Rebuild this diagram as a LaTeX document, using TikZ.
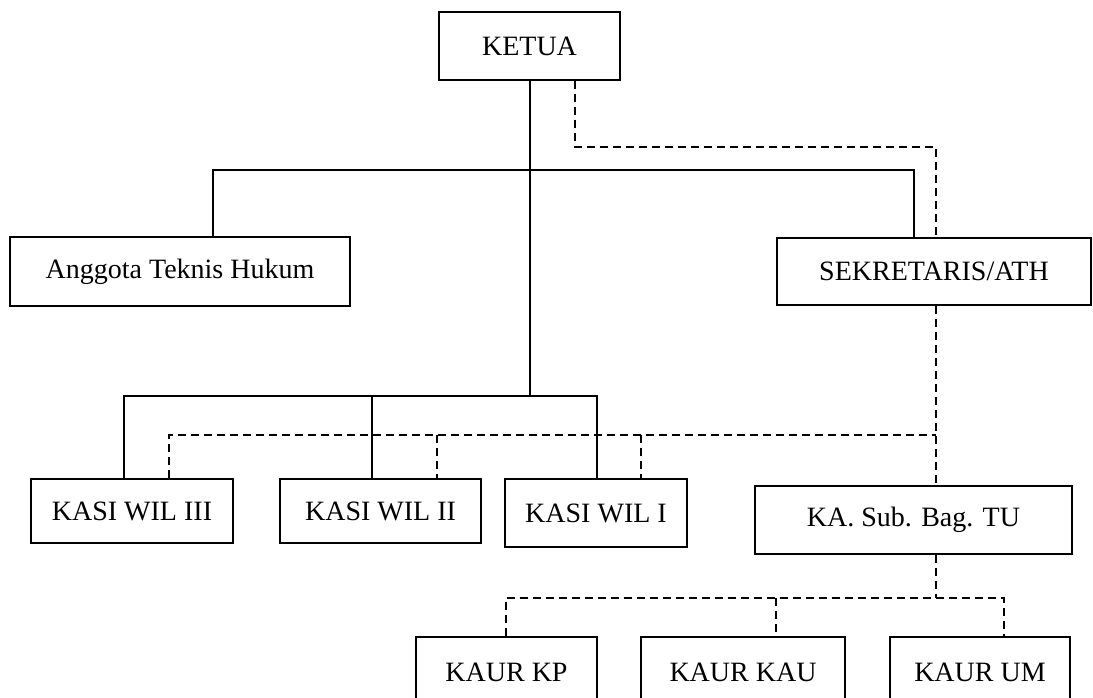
\documentclass[tikz,border=0pt]{standalone}
\usepackage{fontspec}
\setmainfont{Liberation Serif}

\begin{document}
\begin{tikzpicture}[x=1pt, y=-1pt, line cap=butt,
                    box/.style={draw, line width=1.6pt, inner sep=0pt,
                                font=\fontsize{28}{33}\selectfont},
                    link/.style={line width=1.6pt},
                    dlink/.style={line width=1.6pt, dash pattern=on 8pt off 5pt}
                   ]
\useasboundingbox (0,0) rectangle (1093,698);
\clip (0,0) rectangle (1093,698);

%boxes
\node [box, minimum width=181, minimum height=68] (ketua)   at (529.5,46)  {KETUA};
\node [box, minimum width=340, minimum height=69] (anggota) at (180,271.5) {Anggota Teknis Hukum};
\node [box, minimum width=314, minimum height=67] (sekre)   at (934,271.5) {SEKRETARIS/ATH};
\node [box, minimum width=202, minimum height=64] (wil3)    at (132,511)   {KASI WIL III};
\node [box, minimum width=201, minimum height=64] (wil2)    at (380.5,511) {KASI WIL II};
\node [box, minimum width=182, minimum height=68] (wil1)    at (596,513)   {KASI WIL I};
\node [box, minimum width=317, minimum height=68] (subtu)   at (913.5,520) {KA. Sub. Bag. TU};
\node [box, minimum width=181, minimum height=70] (kp)      at (506.5,672) {KAUR KP};
\node [box, minimum width=204, minimum height=70] (kau)     at (743,672)   {KAUR KAU};
\node [box, minimum width=180, minimum height=70] (um)      at (980,672)   {KAUR UM};

%bends of the lines
\coordinate (top)   at (530,170);
\coordinate (low)   at (530,396);
\coordinate (aL)    at (213,170);
\coordinate (aR)    at (914,170);
\coordinate (wL)    at (124,396);
\coordinate (wM)    at (372,396);
\coordinate (wR)    at (597,396);
\coordinate (kd)    at (575,147);
\coordinate (sd)    at (936,147);
\coordinate (hub)   at (936,435);
\coordinate (d3)    at (169,435);
\coordinate (d2)    at (437,435);
\coordinate (d1)    at (641,435);
\coordinate (tuhub) at (936,598);
\coordinate (u1)    at (506,598);
\coordinate (u2)    at (776,598);
\coordinate (u3)    at (1004,598);

%solid lines
\draw [link] (ketua.south -| top) -- (low);
\draw [link] (aL |- anggota.north) -- (aL) -- (aR) -- (aR |- sekre.north);
\draw [link] (wL |- wil3.north) -- (wL) -- (wR) -- (wR |- wil1.north);
\draw [link] (wM) -- (wM |- wil2.north);

%dashed lines
\draw [dlink] (kd |- ketua.south) -- (kd) -- (sd) -- (sd |- sekre.north);
\draw [dlink] (hub |- sekre.south) -- (hub |- subtu.north);
\draw [dlink] (d3 |- wil3.north) -- (d3) -- (hub);
\draw [dlink] (d2) -- (d2 |- wil2.north);
\draw [dlink] (d1) -- (d1 |- wil1.north);
\draw [dlink] (tuhub |- subtu.south) -- (tuhub);
\draw [dlink] (u1 |- kp.north) -- (u1) -- (u3) -- (u3 |- um.north);
\draw [dlink] (u2) -- (u2 |- kau.north);
\end{tikzpicture}
\end{document}
